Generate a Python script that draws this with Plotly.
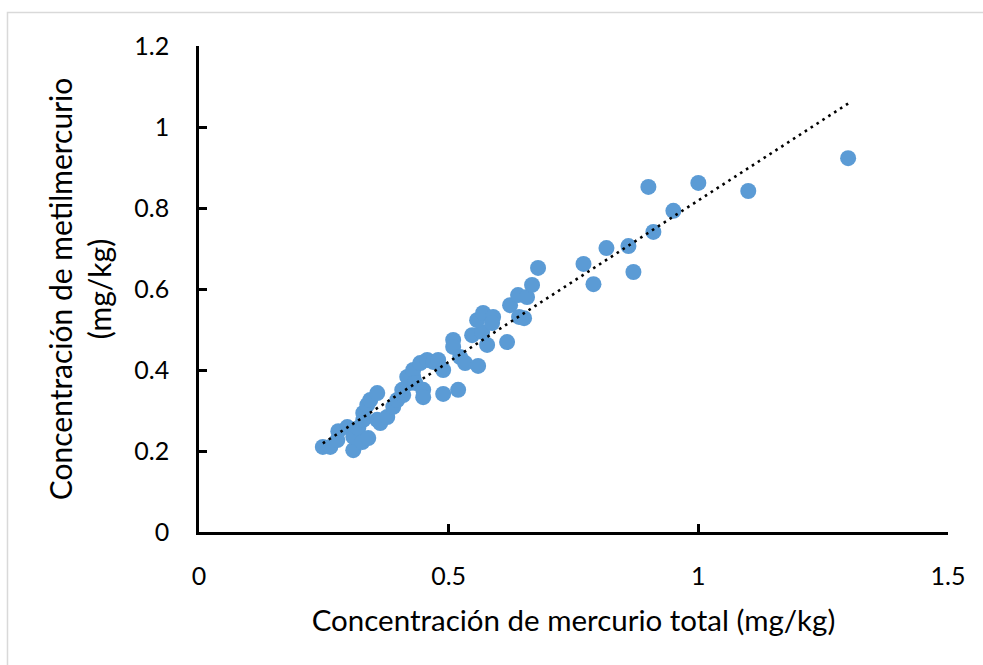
import numpy as np
import plotly.graph_objects as go

hg_total = [0.248, 0.263, 0.279, 0.277, 0.297, 0.309, 0.309, 0.319, 0.327, 0.339,
            0.329, 0.329, 0.337, 0.343, 0.357, 0.357, 0.363, 0.377, 0.389, 0.397,
            0.409, 0.423, 0.429, 0.407, 0.417, 0.429, 0.433, 0.443, 0.449, 0.449,
            0.457, 0.469, 0.479, 0.489, 0.489, 0.519, 0.509, 0.509, 0.523, 0.533,
            0.559, 0.547, 0.567, 0.577, 0.557, 0.569, 0.589, 0.587, 0.617, 0.623,
            0.639, 0.657, 0.641, 0.651, 0.667, 0.679, 0.770, 0.790, 0.816, 0.860,
            0.870, 0.900, 0.910, 0.950, 1.000, 1.100, 1.300]
mehg = [0.210, 0.210, 0.249, 0.227, 0.259, 0.202, 0.235, 0.257, 0.222, 0.232,
        0.277, 0.294, 0.314, 0.326, 0.343, 0.277, 0.269, 0.284, 0.309, 0.326,
        0.338, 0.368, 0.383, 0.351, 0.383, 0.400, 0.368, 0.417, 0.351, 0.333,
        0.425, 0.420, 0.425, 0.400, 0.341, 0.351, 0.474, 0.457, 0.432, 0.417,
        0.410, 0.486, 0.494, 0.462, 0.523, 0.541, 0.531, 0.516, 0.469, 0.560,
        0.585, 0.580, 0.531, 0.528, 0.610, 0.652, 0.662, 0.612, 0.701, 0.706,
        0.642, 0.852, 0.741, 0.793, 0.862, 0.842, 0.923]

x_ticks = [0, 0.5, 1, 1.5]
x_tick_labels = ["0", "0.5", "1", "1.5"]
y_ticks = [0, 0.2, 0.4, 0.6, 0.8, 1.0, 1.2]
y_tick_labels = ["0", "0.2", "0.4", "0.6", "0.8", "1", "1.2"]

slope, intercept = np.polyfit(hg_total, mehg, 1)
tx = np.array([min(hg_total), max(hg_total)])
ty = slope * tx + intercept

FONT = "Lato"
fig = go.Figure()
fig.add_trace(go.Scatter(x=hg_total, y=mehg, mode="markers",
                         marker=dict(color="#5B9BD5", size=16, line=dict(width=0)),
                         showlegend=False))
fig.add_trace(go.Scatter(x=tx, y=ty, mode="lines",
                         line=dict(color="black", width=2.6, dash="2.6px,4.4px"),
                         showlegend=False))

fig.update_layout(
    width=983, height=665,
    margin=dict(l=199, r=35, t=46, b=133),
    paper_bgcolor="white", plot_bgcolor="white",
    font=dict(family=FONT, size=24, color="black"),
    xaxis=dict(range=[0, 1.5], tickvals=x_ticks, ticktext=x_tick_labels,
               showgrid=False, zeroline=False, showline=True, linecolor="black", linewidth=2.5,
               ticks="inside", ticklen=8, tickwidth=2.5, tickcolor="black",
               ticklabelstandoff=20, tickfont=dict(size=25),
               title=dict(text="Concentración de mercurio total (mg/kg)", standoff=22,
                          font=dict(size=29.5))),
    yaxis=dict(range=[0, 1.2], tickvals=y_ticks, ticktext=y_tick_labels,
               showgrid=False, zeroline=False, showline=True, linecolor="black", linewidth=2.5,
               ticks="inside", ticklen=8, tickwidth=2.5, tickcolor="black",
               ticklabelstandoff=22, tickfont=dict(size=25),
               title=dict(text="Concentración de metilmercurio<br>(mg/kg)", standoff=14,
                          font=dict(size=30))),
    shapes=[dict(type="rect", xref="paper", yref="paper",
                 x0=-0.2557, x1=1.2, y0=-0.5, y1=1.069,
                 line=dict(color="#D9D9D9", width=1.5), layer="below")],
)
fig.write_html("out.html")
